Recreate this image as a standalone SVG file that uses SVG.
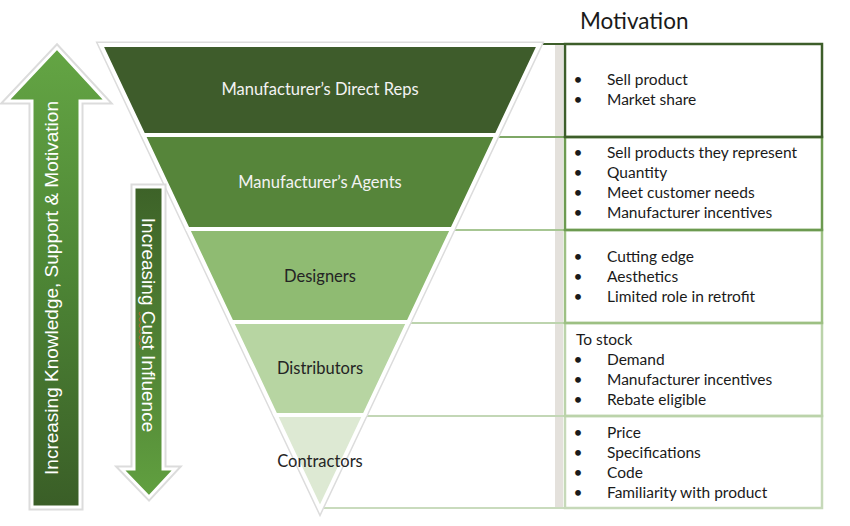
<svg xmlns="http://www.w3.org/2000/svg" width="850" height="526" viewBox="0 0 850 526">
  <defs>
    <linearGradient id="upGrad" x1="0" y1="0" x2="0" y2="1">
      <stop offset="0" stop-color="#64a544"/>
      <stop offset="0.5" stop-color="#4d8535"/>
      <stop offset="1" stop-color="#3a5e27"/>
    </linearGradient>
    <linearGradient id="downGrad" x1="0" y1="0" x2="0" y2="1">
      <stop offset="0" stop-color="#3d6228"/>
      <stop offset="1" stop-color="#61a040"/>
    </linearGradient>
    <style>
      .band { stroke: #ffffff; stroke-width: 4; stroke-linejoin: miter; }
      .blabel { font-family: Lato, "Open Sans", sans-serif; font-size: 16.5px; text-anchor: middle; }
      .light { fill: #f3f3f3; }
      .dark { fill: #242424; }
      .item { font-family: Lato, "Open Sans", sans-serif; font-size: 15.5px; fill: #1a1a1a; }
      .arrowtxt { font-family: "Liberation Sans", Arial, sans-serif; font-size: 19px; fill: #ffffff; text-anchor: middle; }
      .ext { fill: none; stroke-width: 2; }
      .cell { fill: none; stroke-width: 2.5; }
      .shadow { fill: none; stroke: #dcdcdc; stroke-width: 7; stroke-linejoin: miter; }
    </style>
  </defs>
  <rect width="850" height="526" fill="#ffffff"/>

  <!-- title -->
  <text x="580" y="29" font-family="Lato, 'Open Sans', sans-serif" font-size="22.5" fill="#1a1a1a">Motivation</text>

  <!-- table / connectors -->
  <g id="connectors">
    <rect x="555" y="44" width="8" height="465" fill="#e4e1dc"/>
    <line class="ext" x1="543" y1="44" x2="565" y2="44" stroke="#3d5e2a" stroke-width="2.5"/>
    <line class="ext" x1="494" y1="137" x2="565" y2="137" stroke="#7ea766"/>
    <line class="ext" x1="450" y1="230" x2="565" y2="230" stroke="#a7c693"/>
    <line class="ext" x1="406" y1="323" x2="565" y2="323" stroke="#bdd4ae"/>
    <line class="ext" x1="362" y1="416" x2="565" y2="416" stroke="#c3d7b6"/>
    <line class="ext" x1="319" y1="508" x2="565" y2="508" stroke="#c9dbbd"/>
  </g>

  <g id="cell5">
    <rect class="cell" x="565" y="416" width="257" height="92" stroke="#c6d9b9"/>
    <text class="item" x="578" y="438" text-anchor="middle">•</text><text class="item" x="607" y="438">Price</text>
    <text class="item" x="578" y="458" text-anchor="middle">•</text><text class="item" x="607" y="458">Specifications</text>
    <text class="item" x="578" y="478" text-anchor="middle">•</text><text class="item" x="607" y="478">Code</text>
    <text class="item" x="578" y="498" text-anchor="middle">•</text><text class="item" x="607" y="498">Familiarity with product</text>
  </g>
  <g id="cell4">
    <rect class="cell" x="565" y="323" width="257" height="93" stroke="#bbd3aa"/>
    <text class="item" x="576" y="345">To stock</text>
    <text class="item" x="578" y="365" text-anchor="middle">•</text><text class="item" x="607" y="365">Demand</text>
    <text class="item" x="578" y="385" text-anchor="middle">•</text><text class="item" x="607" y="385">Manufacturer incentives</text>
    <text class="item" x="578" y="405" text-anchor="middle">•</text><text class="item" x="607" y="405">Rebate eligible</text>
  </g>
  <g id="cell3">
    <rect class="cell" x="565" y="230" width="257" height="93" stroke="#9dc083"/>
    <text class="item" x="578" y="262" text-anchor="middle">•</text><text class="item" x="607" y="262">Cutting edge</text>
    <text class="item" x="578" y="282" text-anchor="middle">•</text><text class="item" x="607" y="282">Aesthetics</text>
    <text class="item" x="578" y="302" text-anchor="middle">•</text><text class="item" x="607" y="302">Limited role in retrofit</text>
  </g>
  <g id="cell2">
    <rect class="cell" x="565" y="137" width="257" height="93" stroke="#6c9a50"/>
    <text class="item" x="578" y="158" text-anchor="middle">•</text><text class="item" x="607" y="158">Sell products they represent</text>
    <text class="item" x="578" y="178" text-anchor="middle">•</text><text class="item" x="607" y="178">Quantity</text>
    <text class="item" x="578" y="198" text-anchor="middle">•</text><text class="item" x="607" y="198">Meet customer needs</text>
    <text class="item" x="578" y="218" text-anchor="middle">•</text><text class="item" x="607" y="218">Manufacturer incentives</text>
  </g>
  <g id="cell1">
    <rect class="cell" x="565" y="44" width="257" height="93" stroke="#3d5e2a"/>
    <text class="item" x="578" y="85" text-anchor="middle">•</text><text class="item" x="607" y="85">Sell product</text>
    <text class="item" x="578" y="105" text-anchor="middle">•</text><text class="item" x="607" y="105">Market share</text>
  </g>

  <!-- funnel -->
  <polygon class="shadow" points="101,45 539,45 320,509"/>
  <g id="band1">
    <polygon class="band" fill="#3e5c2b" points="101,45 539,45 496.5,135 143.5,135"/>
    <text class="blabel light" x="320" y="95">Manufacturer’s Direct Reps</text>
  </g>
  <g id="band2">
    <polygon class="band" fill="#56853a" points="143.5,135 496.5,135 452.2,229 187.8,229"/>
    <text class="blabel light" x="320" y="188">Manufacturer’s Agents</text>
  </g>
  <g id="band3">
    <polygon class="band" fill="#8fbb72" points="187.8,229 452.2,229 408.3,322 231.7,322"/>
    <text class="blabel dark" x="320" y="282">Designers</text>
  </g>
  <g id="band4">
    <polygon class="band" fill="#b7d5a2" points="231.7,322 408.3,322 364.4,415 275.6,415"/>
    <text class="blabel dark" x="320" y="374">Distributors</text>
  </g>
  <g id="band5">
    <polygon class="band" fill="#dde9d3" points="275.6,415 364.4,415 320,509"/>
    <text class="blabel dark" x="320" y="467">Contractors</text>
  </g>

  <!-- up arrow -->
  <g id="arrow-up">
    <polygon class="shadow" points="57,48 106,101 80,101 80,507 32,507 32,101 7,101"/>
    <polygon fill="url(#upGrad)" stroke="#ffffff" stroke-width="3" points="57,48 106,101 80,101 80,507 32,507 32,101 7,101"/>
    <text class="arrowtxt" transform="translate(57.5,288) rotate(-90)">Increasing Knowledge,  Support &amp; Motivation</text>
  </g>

  <!-- down arrow -->
  <g id="arrow-down">
    <polygon class="shadow" points="134,187 163,187 163,469 175,469 149,497 122,469 134,469"/>
    <polygon fill="url(#downGrad)" stroke="#ffffff" stroke-width="3" points="134,187 163,187 163,469 175,469 149,497 122,469 134,469"/>
    <text class="arrowtxt" transform="translate(142,325) rotate(90)">Increasing <tspan>Cust</tspan> Influence</text>
    <path d="M140,312 q-1.5,1.5 0,3 t0,3 t0,3 t0,3 t0,3 t0,3 t0,3 t0,3 t0,3 t0,3 t0,3 t0,3" fill="none" stroke="#c0632a" stroke-width="1"/>
  </g>
</svg>
